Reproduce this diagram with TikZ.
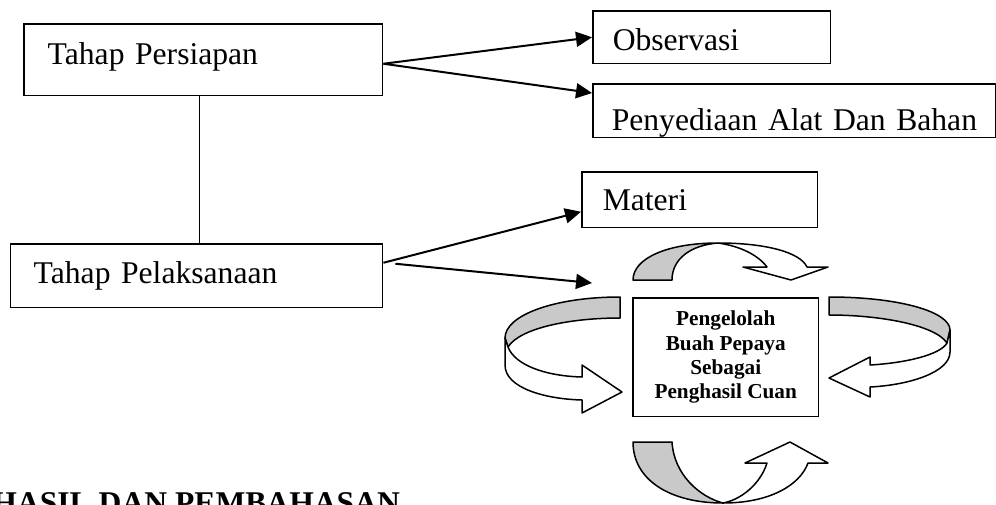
\documentclass[tikz,border=0pt]{standalone}
\usepackage{fontspec}
\setmainfont{Liberation Serif}
\usetikzlibrary{arrows.meta}

\tikzset{
  stage/.style={draw, line width=0.03cm, anchor=north west, inner ysep=0pt, align=left,
    font=\fontsize{18}{21}\selectfont},
  link/.style={line width=0.04cm, -{Triangle[length=0.32cm,width=0.3cm]}},
  back/.style={draw, line width=0.03cm, line join=round, fill=black!21},
  front/.style={draw, line width=0.03cm, line join=round, fill=white}
}

\begin{document}
\begin{tikzpicture}[x=0.02cm,y=-0.02cm]

\useasboundingbox (0,0) rectangle (996,504);

\node[stage, text width=6.22cm, inner xsep=0.48cm, text height=0.82cm, text depth=0.62cm] (pers) at (23,23) {Tahap Persiapan};
\node[stage, text width=6.52cm, inner xsep=0.46cm, text height=0.80cm, text depth=0.48cm] (pelak) at (10,243) {Tahap Pelaksanaan};
\node[stage, text width=3.96cm, inner xsep=0.40cm, text height=0.80cm, text depth=0.26cm] (obs) at (592,10) {Observasi};
\node[stage, text width=7.30cm, inner xsep=0.38cm, text height=0.94cm, text depth=0.14cm] (alat) at (592,83) {\mbox{Penyediaan Alat Dan Bahan}};
\node[stage, text width=3.88cm, inner xsep=0.42cm, text height=0.78cm, text depth=0.34cm] (mat) at (581,171) {Materi};

\draw[line width=0.03cm] ([xshift=-0.07cm]pers.south) -- ([xshift=-0.07cm]pers.south |- pelak.north);

\draw[link] ([yshift=-0.08cm]pers.east) -- (obs.west);
\draw[link] ([yshift=-0.08cm]pers.east) -- ([yshift=-0.2cm]alat.north west);
\draw[link] ([yshift=0.26cm]pelak.east) -- ([yshift=-0.24cm]mat.west);
\coordinate (goal) at (592,283);
\draw[link] ([xshift=0.24cm,yshift=0.24cm]pelak.east) -- (goal);

% cycle around the centre box
\filldraw[back] (633,280) -- (672,280) .. controls (672,258) and (692,245) .. (718,243)
  .. controls (668,243) and (633,258) .. cycle;
\filldraw[front] (718,243) .. controls (765,243) and (800,252) .. (807,267) -- (828,267) -- (791,280)
  -- (743,267) -- (767,267) .. controls (758,255) and (740,246) .. cycle;

\filldraw[back] (829,297) .. controls (900,297) and (950,312) .. (950,330) -- (947,343)
  .. controls (935,325) and (880,315) .. (829,315) -- cycle;
\filldraw[front] (950,330) -- (950,352) .. controls (950,372) and (910,385) .. (870,387) -- (870,397)
  -- (829,378) -- (870,357) -- (870,365) .. controls (905,363) and (940,355) .. (947,343) -- cycle;

\filldraw[back] (633,442) -- (672,442) .. controls (674,475) and (700,497) .. (723,503)
  .. controls (670,503) and (633,480) .. cycle;
\filldraw[front] (723,503) .. controls (770,503) and (800,485) .. (808,463) -- (828,463) -- (790,442)
  -- (745,463) -- (767,463) .. controls (760,485) and (740,500) .. cycle;

\filldraw[back] (620,297) -- (620,318) .. controls (570,318) and (520,328) .. (508,347) -- (505,338)
  .. controls (505,315) and (555,297) .. cycle;
\filldraw[front] (505,338) -- (505,365) .. controls (505,388) and (545,399) .. (582,400) -- (582,413)
  -- (622,392) -- (582,365) -- (582,377) .. controls (545,376) and (515,365) .. (508,347) -- cycle;

\node[draw, line width=0.03cm, anchor=north west, minimum width=3.72cm, minimum height=2.38cm,
  align=center, font=\bfseries\fontsize{12.1}{13.8}\selectfont] (core) at (632,297)
  {Pengelolah\\Buah Pepaya\\Sebagai\\Penghasil Cuan};

\node[anchor=base west, inner sep=0pt, font=\bfseries\fontsize{18}{21}\selectfont] (head) at (-8,513)
  {HASIL DAN PEMBAHASAN};

\end{tikzpicture}
\end{document}
